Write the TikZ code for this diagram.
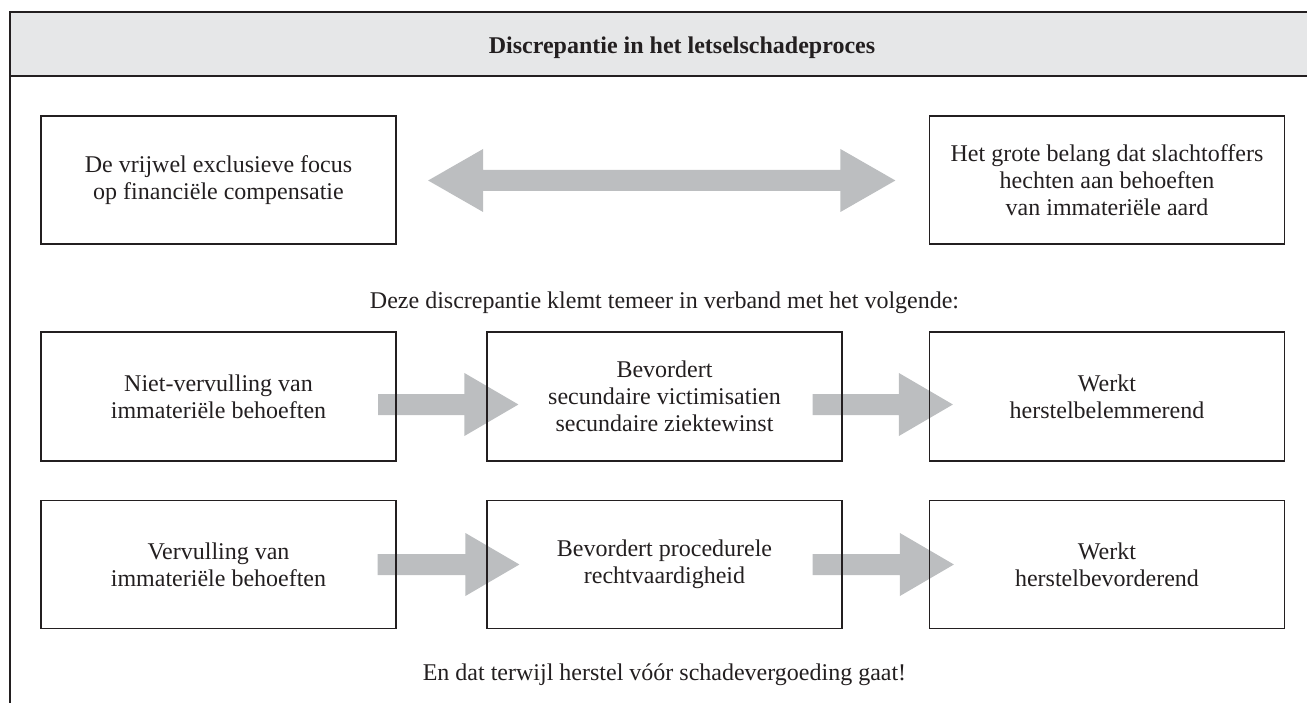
\documentclass[tikz,border=0pt]{standalone}
\usepackage{fontspec}
\setmainfont{Liberation Serif}
\usetikzlibrary{calc,backgrounds}
\definecolor{ink}{HTML}{231F20}
\definecolor{headgray}{HTML}{E6E7E8}
\definecolor{arrowgray}{HTML}{BCBEC0}
\tikzset{
  box/.style={draw=ink, line width=1.2pt, minimum width=355pt, minimum height=128pt,
    inner sep=0pt, align=center, font=\fontsize{24}{27}\selectfont, text=ink},
  plaintext/.style={font=\fontsize{24}{27}\selectfont, text=ink, anchor=base, inner sep=0pt},
  frameline/.style={draw=ink, line width=1.4pt},
  blockarrow/.style={fill=arrowgray},
}
% single block arrow from coordinate #1 (tail) to coordinate #2 (tip), same height
\newcommand{\flowarrow}[2]{%
  \fill[blockarrow] ($(#1)+(0,-10.5)$) -- ($(#2)+(-54,-10.5)$) -- ($(#2)+(-54,-31.5)$)
    -- (#2) -- ($(#2)+(-54,31.5)$) -- ($(#2)+(-54,10.5)$) -- ($(#1)+(0,10.5)$) -- cycle;}
\begin{document}
\begin{tikzpicture}[x=1pt,y=-1pt]
\useasboundingbox (0,0) rectangle (1307,703);
\begin{scope}
  \clip (0,0) rectangle (1307,703);
  \fill[headgray] (10,12) rectangle (1330,76);
  \draw[frameline] (1330,12) -- (10,12) -- (10,720);
  \draw[frameline] (10,76) -- (1330,76);
\end{scope}

\node[plaintext, font=\fontsize{24}{27}\selectfont\bfseries] (title) at (682,54)
  {Discrepantie in het letselschadeproces};

% row 1
\node[box] (a) at (218.5,180) {De vrijwel exclusieve focus\\op financiële compensatie};
\node[box] (b) at (1107,180) {Het grote belang dat slachtoffers\\hechten aan behoeften\\van immateriële aard};

\node[plaintext] (mid) at (664.5,309) {Deze discrepantie klemt temeer in verband met het volgende:};

% row 2
\node[box, minimum height=129pt] (c) at (218.5,396.5) {Niet-vervulling van\\immateriële behoeften};
\node[box, minimum height=129pt] (d) at (664.5,396.5) {Bevordert\\secundaire victimisatien\\secundaire ziektewinst};
\node[box, minimum height=129pt] (e) at (1107,396.5) {Werkt\\herstelbelemmerend};

% row 3
\node[box] (f) at (218.5,564.5) {Vervulling van\\immateriële behoeften};
\node[box] (g) at (664.5,564.5) {Bevordert procedurele\\rechtvaardigheid};
\node[box] (h) at (1107,564.5) {Werkt\\herstelbevorderend};

\node[plaintext] (end) at (664.5,680) {En dat terwijl herstel vóór schadevergoeding gaat!};

\begin{scope}[on background layer]
  % double arrow between a and b
  \coordinate (L) at ($(a.east)+(31.5,0.5)$);
  \coordinate (R) at ($(b.west)+(-33.5,0.5)$);
  \fill[blockarrow] (L) -- ($(L)+(55,-31.5)$) -- ($(L)+(55,-10.5)$) -- ($(R)+(-55,-10.5)$)
    -- ($(R)+(-55,-31.5)$) -- (R) -- ($(R)+(-55,31.5)$) -- ($(R)+(-55,10.5)$)
    -- ($(L)+(55,10.5)$) -- ($(L)+(55,31.5)$) -- cycle;
  % row 2 arrows
  \coordinate (s1) at ($(c.east)+(-18.5,8)$);
  \coordinate (t1) at ($(d.west)+(32,8)$);
  \coordinate (s2) at ($(d.east)+(-30,8)$);
  \coordinate (t2) at ($(e.west)+(24,8)$);
  \flowarrow{s1}{t1}
  \flowarrow{s2}{t2}
  % row 3 arrows
  \coordinate (s3) at ($(f.east)+(-19,0)$);
  \coordinate (t3) at ($(g.west)+(33,0)$);
  \coordinate (s4) at ($(g.east)+(-30,0)$);
  \coordinate (t4) at ($(h.west)+(25,0)$);
  \flowarrow{s3}{t3}
  \flowarrow{s4}{t4}
\end{scope}
\end{tikzpicture}
\end{document}
